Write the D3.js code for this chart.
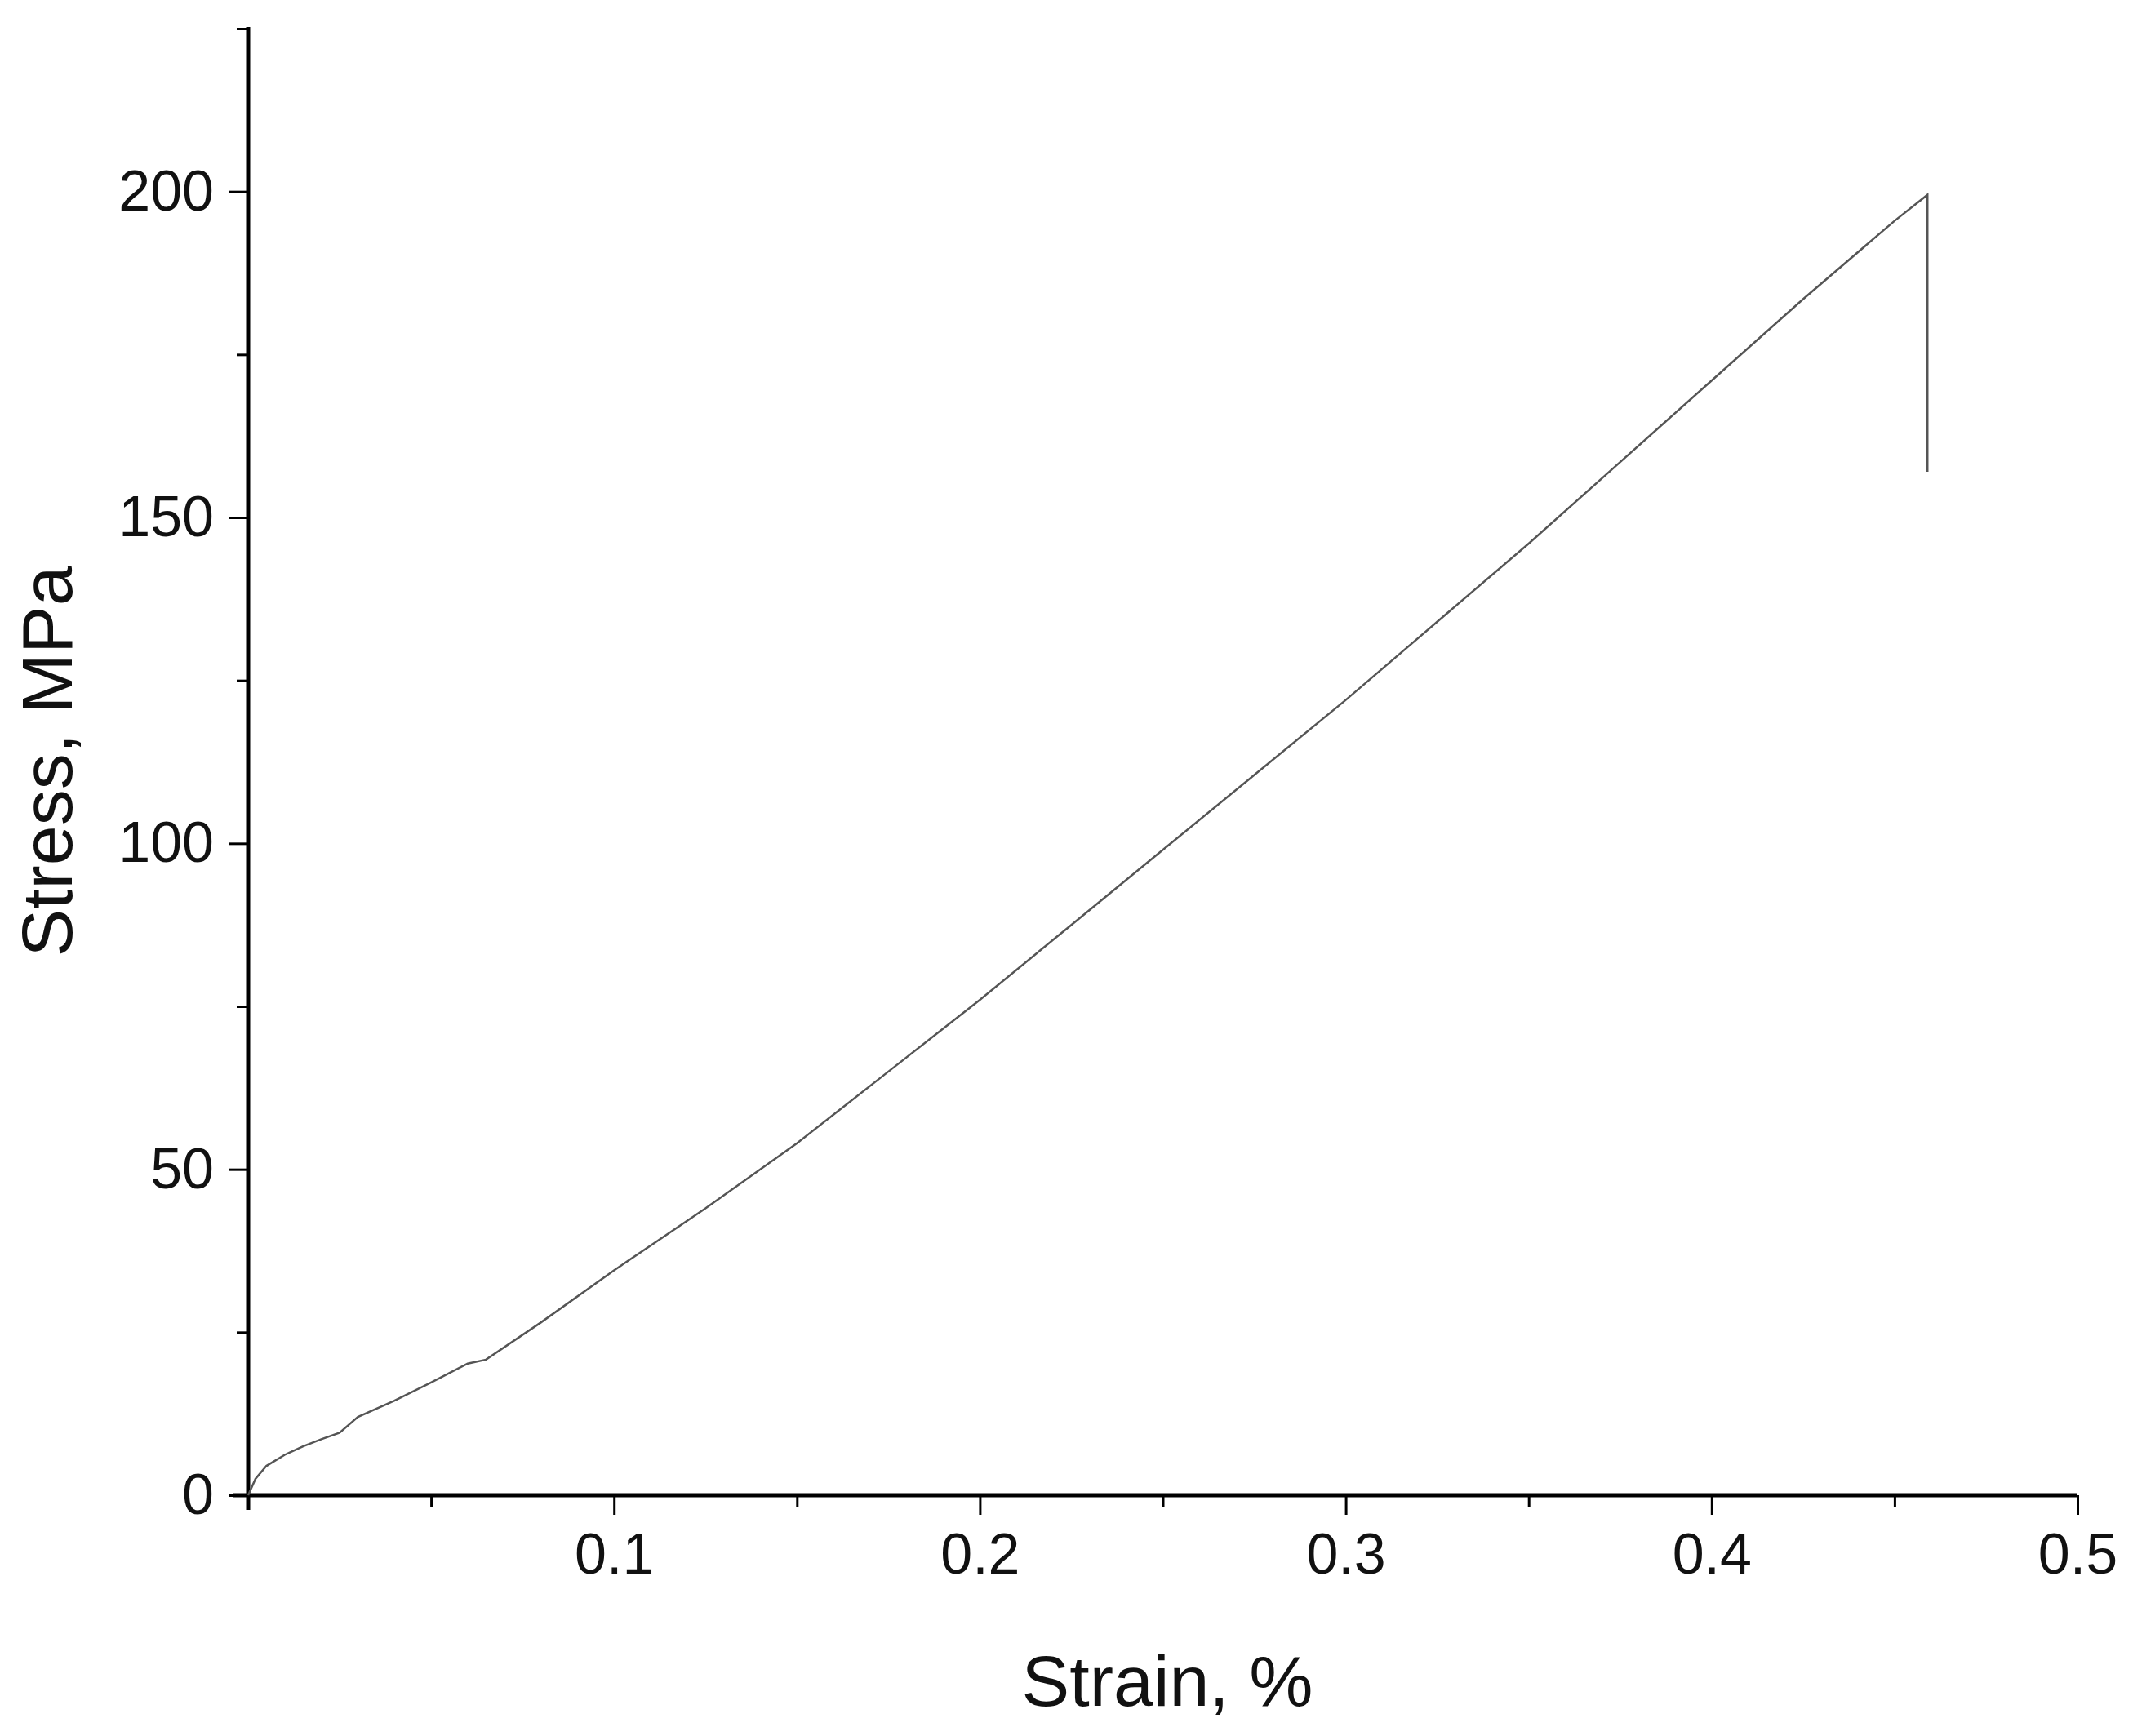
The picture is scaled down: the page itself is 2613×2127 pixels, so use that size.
<!DOCTYPE html>
<html><head><meta charset="utf-8">
<script src="https://cdn.jsdelivr.net/npm/d3@7"></script>
<style>body{margin:0;background:#fff}text{font-family:"Liberation Sans",Arial,sans-serif}</style>
</head><body><svg id="c" width="2613" height="2127"></svg>
<script>
// strain (%) and stress (MPa)
const strain = [0, 0.002, 0.005, 0.01, 0.015, 0.02, 0.025, 0.03, 0.04, 0.05, 0.06, 0.065, 0.08, 0.1, 0.125, 0.15, 0.175, 0.2, 0.225, 0.25, 0.275, 0.3, 0.325, 0.35, 0.375, 0.4, 0.425, 0.45, 0.459, 0.459];
const stress = [0, 2.5, 4.5, 6.2, 7.5, 8.6, 9.6, 12, 14.5, 17.3, 20.2, 20.8, 26.5, 34.5, 44, 54, 65, 76, 87.5, 99, 110.5, 122, 134, 146, 158.5, 171, 183.5, 195.5, 199.5, 157];
const xTicks = [0.1, 0.2, 0.3, 0.4, 0.5];
const yTicks = [0, 50, 100, 150, 200];

const svg = d3.select("#c");
const x = d3.scaleLinear().domain([0, 0.5]).range([304, 2545]);
const y = d3.scaleLinear().domain([0, 225]).range([1832, 35]);

// minor ticks
svg.append("g").attr("transform", "translate(0,1832)")
  .call(d3.axisBottom(x).tickValues(d3.range(0.05, 0.5, 0.1)).tickSize(14).tickFormat(""))
  .call(g => g.select(".domain").remove())
  .selectAll("line").attr("stroke", "#000").attr("stroke-width", 3);
svg.append("g").attr("transform", "translate(304,0)")
  .call(d3.axisLeft(y).tickValues(d3.range(25, 226, 50)).tickSize(14).tickFormat(""))
  .call(g => g.select(".domain").remove())
  .selectAll("line").attr("stroke", "#000").attr("stroke-width", 3);

const gx = svg.append("g").attr("transform", "translate(0,1832)")
  .call(d3.axisBottom(x).tickValues(xTicks).tickSize(24).tickSizeOuter(0).tickPadding(22).tickFormat(d3.format(".1f")));
gx.select(".domain").attr("d", "M286,0H2545").attr("stroke-width", 5);
gx.selectAll("line").attr("stroke-width", 3);
gx.selectAll("text").attr("font-size", 70).attr("fill", "#111");

const gy = svg.append("g").attr("transform", "translate(304,0)")
  .call(d3.axisLeft(y).tickValues(yTicks).tickSize(24).tickSizeOuter(0).tickPadding(18));
gy.select(".domain").attr("d", "M0,33V1850").attr("stroke-width", 5);
gy.selectAll("line").attr("stroke-width", 3);
gy.selectAll("text").attr("font-size", 70).attr("fill", "#111");

const pts = strain.map((s, i) => [s, stress[i]]);
svg.append("path").datum(pts)
  .attr("d", d3.line().x(d => x(d[0])).y(d => y(d[1])))
  .attr("fill", "none").attr("stroke", "#555").attr("stroke-width", 2.5);

svg.append("text").attr("x", 1430).attr("y", 2090).attr("text-anchor", "middle")
  .attr("font-size", 88).attr("fill", "#111").text("Strain, %");
svg.append("text").attr("transform", "translate(88,933) rotate(-90)").attr("text-anchor", "middle")
  .attr("font-size", 88).attr("fill", "#111").text("Stress, MPa");
</script></body></html>
